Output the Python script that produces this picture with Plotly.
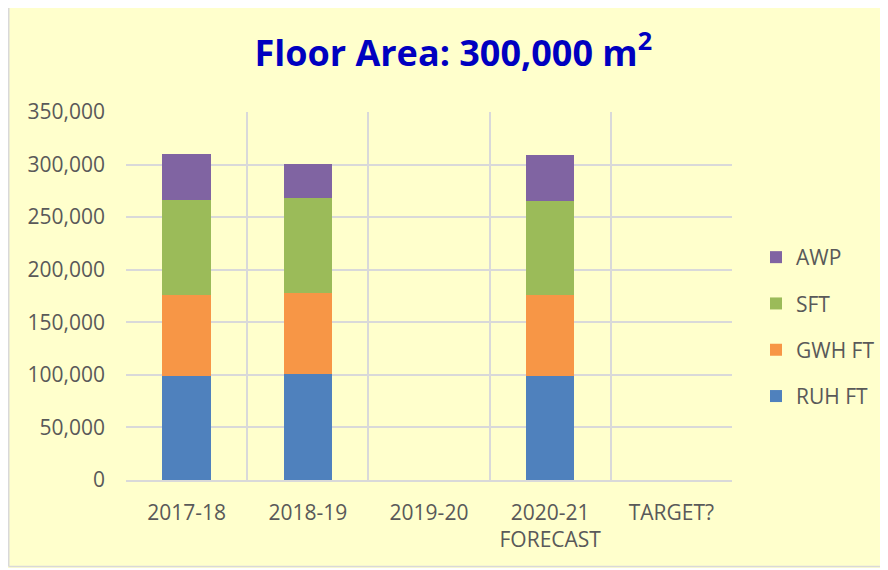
import plotly.graph_objects as go

categories = ["2017-18", "2018-19", "2019-20", "2020-21<br>FORECAST", "TARGET?"]
ruh_ft = [99000, 101000, None, 99000, None]
gwh_ft = [76500, 77000, None, 76500, None]
sft = [91000, 90300, None, 90300, None]
awp = [43700, 32700, None, 43700, None]
y_ticks = [0, 50000, 100000, 150000, 200000, 250000, 300000, 350000]

series = [
    ("RUH FT", ruh_ft, "#4F81BD"),
    ("GWH FT", gwh_ft, "#F79646"),
    ("SFT", sft, "#9BBB59"),
    ("AWP", awp, "#8064A2"),
]

fig = go.Figure()
for i, (name, vals, color) in enumerate(series):
    fig.add_trace(go.Bar(x=categories, y=vals, name=name, marker_color=color,
                         marker_line_width=0, legendgroup=name,
                         legendrank=len(series) - i))

# page body has an 8px default margin, so the figure is offset by 8px
W, H = 880, 560
ml, mr, mt, mb = 118, 156, 104, 88
pw, ph = W - ml - mr, H - mt - mb

FONT = "Open Sans, sans-serif"
TS = 21
fig.update_layout(
    width=W, height=H,
    barmode="stack", bargap=0.6,
    paper_bgcolor="#FFFFCC", plot_bgcolor="#FFFFCC",
    margin=dict(l=ml, r=mr, t=mt, b=mb, autoexpand=False),
    font=dict(family=FONT, color="#595959", size=TS),
    title=dict(text="<b>Floor Area: 300,000 m<sup>2</sup></b>", x=0.506, xanchor="center",
               y=1 - 45 / H, yanchor="middle",
               font=dict(size=36, color="#0000C0", family=FONT)),
    legend=dict(x=(748 - ml) / pw, xanchor="left", y=(H - mb - 319) / ph, yanchor="middle",
                traceorder="grouped", tracegroupgap=16,
                font=dict(size=21, color="#595959"), bgcolor="rgba(0,0,0,0)"),
    xaxis=dict(type="category", tickson="boundaries", showgrid=True,
               gridcolor="#D9D9D9", gridwidth=1.5, ticks="", showline=True,
               linecolor="#D9D9D9", linewidth=1.5, mirror=False,
               ticklabelstandoff=13,
               tickfont=dict(size=TS, color="#595959")),
    yaxis=dict(range=[0, 350000], tickvals=y_ticks, tickformat=",d",
               showgrid=True, gridcolor="#D9D9D9", gridwidth=1.5,
               zeroline=False, showline=False, ticks="",
               ticklabelstandoff=20,
               tickfont=dict(size=TS, color="#595959")),
)

# outer chart border (left and bottom edges visible in the reference)
bx = (0.75 - ml) / pw
by = (H - mb - (H - 1.5)) / ph
fig.add_shape(type="line", xref="paper", yref="paper",
              x0=bx, x1=bx, y0=by, y1=1 + mt / ph,
              line=dict(color="#D9D9D9", width=1.5))
fig.add_shape(type="line", xref="paper", yref="paper",
              x0=bx, x1=1 + mr / pw, y0=by, y1=by,
              line=dict(color="#D9D9D9", width=1.5))

fig.write_html("out.html")
